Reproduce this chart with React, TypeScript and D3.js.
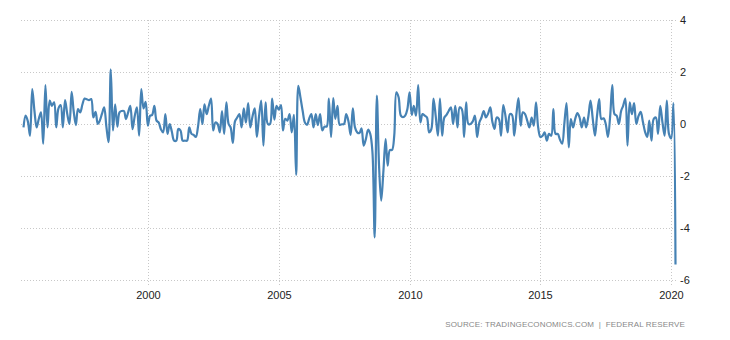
import * as d3 from 'd3';

// monthly change, %, from Apr 1995 to Mar 2020
const START_YEAR = 1995;
const START_MONTH = 3; // April (0-based)
const VALUES = [
  -0.13, 0.32, 0.1, -0.45, 1.34, 0.5, -0.13, 0.2, 0.45, -0.76,
  1.5, -0.13, 0.9, 0.7, 0.83, -0.13, 0.6, 0.73, -0.13, 0.92,
  0.4, 0.0, 1.24, 0.5, -0.04, 0.57, 0.45, 0.75, 0.98, 0.95,
  0.92, 0.96, 0.25, 0.47, 0.0, 0.13, 0.4, 0.64, -0.1, -0.7,
  2.1, -0.25, 0.76, -0.1, 0.45, 0.5, 0.5, 0.19, 0.45, 0.7,
  -0.2, 0.3, 0.64, -0.45, 1.34, 0.6, 0.85, -0.06, 0.32, 0.35,
  0.7, 0.13, 0.05, -0.2, -0.32, 0.38, -0.38, 0.0, -0.3, -0.64,
  -0.64, -0.19, -0.25, -0.64, -0.64, -0.64, -0.13, -0.38, -0.42, -0.5,
  -0.1, 0.57, 0.0, 0.76, 0.38, 0.7, 0.98, -0.25, 0.06, 0.0,
  -0.32, 0.5, -0.38, 0.83, 0.0, -0.13, -0.73, 0.1, 0.25, 0.38,
  -0.13, 0.6, 0.05, 0.8, -0.13, 0.3, 0.6, -0.5, 0.3, 0.9,
  -0.83, 0.83, 0.0, 0.0, 0.98, 0.17, 0.7, 0.55, 0.73, -0.25,
  0.2, 0.13, 0.38, -0.32, 0.35, -1.96, 1.47, 1.0, 0.5, 0.06,
  -0.03, 0.2, 0.38, -0.13, 0.38, -0.04, 0.38, -0.25, -0.1, -0.1,
  0.98, -0.5, 1.0, 0.2, 0.7, -0.03, -0.01, 0.0, 0.38, 0.1,
  -0.42, 0.6, -0.13, -0.32, -0.35, -0.17, -0.83, -0.58, -0.22, -0.38,
  -1.09, -4.36, 1.09, -1.6, -2.95, -1.8, -0.58, -1.6, -1.0, -1.0,
  -0.45, 1.22, 1.03, 0.32, 0.26, 0.32, 0.57, 1.22, 0.35, 0.7,
  0.32, 1.5, 0.06, 0.38, 0.32, 0.25, -0.32, -0.2, 0.98, 0.3,
  -0.45, 0.98, -0.45, 0.25, 0.35, 0.5, 0.64, 0.0, 0.7, -0.13,
  0.64, 0.57, -0.5, 0.83, 0.0, 0.0, 0.1, 0.32, -0.5, 0.06,
  0.25, 0.5, 0.25, 0.4, 0.64, 0.1, -0.19, 0.25, 0.19, -0.45,
  0.73, 0.3, -0.32, 0.38, 0.35, -0.45, 0.4, 1.0, -0.06, 0.45,
  0.38, 0.13, -0.13, 0.25, -0.06, 0.83, -0.13, -0.5, -0.45, -0.32,
  -0.64, -0.38, -0.45, 0.57, -0.38, -0.38, -0.6, -0.76, 0.0, 0.8,
  -0.9, 0.19, -0.13, 0.2, 0.42, 0.25, -0.13, 0.25, -0.13, 0.3,
  0.9, 0.2, -0.45, 0.3, 0.96, 0.19, 0.22, 0.0, -0.5, 0.3,
  1.5, 0.38, 0.32, 0.0, 0.5, 0.7, 0.98, -0.83, 0.83, 0.38,
  0.8, 0.0, 0.3, 0.47, 0.1, -0.3, -0.5, 0.13, -0.64, 0.19,
  0.25, -0.38, 0.7, 0.06, -0.45, 0.9, -0.38, -0.55, 0.8, -5.4,
];
const X_TICKS = [2000, 2005, 2010, 2015, 2020];
const Y_TICKS = [4, 2, 0, -2, -4, -6];
const SOURCE = 'SOURCE: TRADINGECONOMICS.COM  |  FEDERAL RESERVE';

const W = 730;
const H = 340;
const PLOT = { LEFT: 21, RIGHT: 676, TOP: 20, BOTTOM: 280 };
const LINE_COLOR = '#4682b4';
const GRID_COLOR = '#c8c8c8';
const FONT = '"Liberation Sans", Arial, sans-serif';

type Point = { date: Date; value: number };

const data: Point[] = VALUES.map((value, i) => ({
  date: new Date(START_YEAR, START_MONTH + i, 1),
  value,
}));

export default function App() {
  const x = d3
    .scaleTime()
    .domain(d3.extent(data, (d) => d.date) as [Date, Date])
    .range([23.5, 675.5]);
  const y = d3.scaleLinear().domain([-6, 4]).range([PLOT.BOTTOM, PLOT.TOP]);

  // spline-like, as the original chart is drawn
  const line = d3
    .line<Point>()
    .x((d) => x(d.date))
    .y((d) => y(d.value))
    .curve(d3.curveCatmullRom.alpha(0.5));

  return (
    <svg
      width={W}
      height={H}
      style={{ position: 'absolute', left: 0, top: 0, background: '#fff' }}
      fontFamily={FONT}
    >
      {/* horizontal grid + y labels */}
      {Y_TICKS.map((t) => (
        <g key={'y' + t}>
          <line
            x1={PLOT.LEFT}
            x2={PLOT.RIGHT}
            y1={Math.round(y(t)) + 0.5}
            y2={Math.round(y(t)) + 0.5}
            stroke={GRID_COLOR}
            strokeDasharray="1,2"
          />
          <text x={680} y={y(t)} dy="0.35em" fontSize={11} fill="#222">
            {t}
          </text>
        </g>
      ))}

      {/* vertical grid + x labels */}
      {X_TICKS.map((yr) => {
        const xx = Math.round(x(new Date(yr, 0, 1))) + 0.5;
        return (
          <g key={'x' + yr}>
            <line
              x1={xx}
              x2={xx}
              y1={PLOT.TOP}
              y2={PLOT.BOTTOM + 5}
              stroke={GRID_COLOR}
              strokeDasharray="1,2"
            />
            <text x={xx} y={299} textAnchor="middle" fontSize={11} fill="#222">
              {yr}
            </text>
          </g>
        );
      })}

      <path
        d={line(data) ?? ''}
        fill="none"
        stroke={LINE_COLOR}
        strokeWidth={2.2}
        strokeLinejoin="round"
      />

      <text
        x={685}
        y={327}
        textAnchor="end"
        fontSize={8}
        fill="#888"
        letterSpacing={0.15}
        style={{ whiteSpace: 'pre' }}
      >
        {SOURCE}
      </text>
    </svg>
  );
}
